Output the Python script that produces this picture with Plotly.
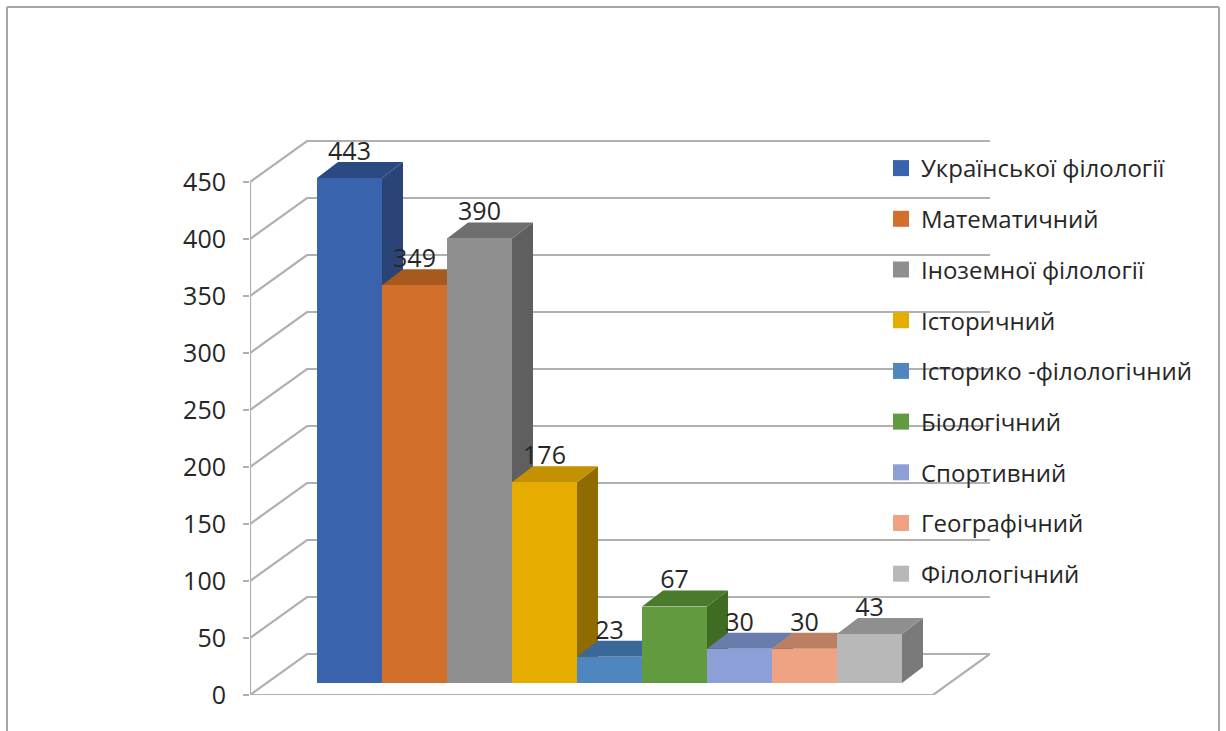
import plotly.graph_objects as go

categories = ["Української філології", "Математичний", "Іноземної філології", "Історичний",
              "Історико -філологічний", "Біологічний", "Спортивний", "Географічний", "Філологічний"]
values = [443, 349, 390, 176, 23, 67, 30, 30, 43]
front_colors = ["#3a63ad", "#d26f2a", "#8f8f8f", "#e6ac00", "#4f86c0", "#619a3f", "#8c9fd6", "#f0a382", "#b8b8b8"]
top_colors = ["#2c4a82", "#a85a1e", "#6e6e6e", "#c49200", "#3a6898", "#4a7a2c", "#6a7cab", "#bd7f63", "#8f8f8f"]
side_colors = ["#2a4478", "#9a5018", "#5f5f5f", "#8f6b00", "#30587f", "#3e6d22", "#5b6c99", "#a86f55", "#7a7a7a"]
y_ticks = [0, 50, 100, 150, 200, 250, 300, 350, 400, 450]

FONT = "Open Sans"
TEXT = "#262626"
GRID = "#b0b0b0"
PX_X, PX_Y = 65.0, 1.14          # pixels per data unit
LEFT_PX, RIGHT_PX, TOP_PX, BOTTOM_PX = 250, 990, 130, 695
X0 = -0.5 - (317 - LEFT_PX) / PX_X
X1 = X0 + (RIGHT_PX - LEFT_PX) / PX_X
Y1 = (BOTTOM_PX - TOP_PX) / PX_Y
WALL_DX, WALL_DY = 57 / PX_X, 41 / PX_Y
BAR_DX, BAR_DY = 21 / PX_X, 16 / PX_Y
BASE = 12 / PX_Y
LABEL_DROP = 4 / PX_Y
FLOOR_R = X0 + (933 - LEFT_PX) / PX_X


def poly(xs, ys):
    return "M" + " L".join(f"{a},{b}" for a, b in zip(xs, ys)) + " Z"


shapes = []
# floor and walls
shapes.append(dict(type="path", xref="x", yref="y", layer="between",
                   path=poly([X0, X0 + WALL_DX, X1, FLOOR_R], [0, WALL_DY, WALL_DY, 0]),
                   line=dict(color=GRID, width=2.2)))
for t in y_ticks[1:]:
    shapes.append(dict(type="path", xref="x", yref="y", layer="between",
                       path=f"M{X0},{t} L{X0 + WALL_DX},{t + WALL_DY} L{X1},{t + WALL_DY}",
                       line=dict(color=GRID, width=2.2)))
shapes.append(dict(type="line", xref="x", yref="y", layer="between", x0=X0, x1=X0, y0=0, y1=y_ticks[-1],
                   line=dict(color=GRID, width=2.2)))
# depth faces of the bars, left to right
for i, v in enumerate(values):
    l, r, top = i - 0.5, i + 0.5, BASE + v
    shapes.append(dict(type="path", xref="x", yref="y", layer="between",
                       path=poly([r, r + BAR_DX, r + BAR_DX, r], [BASE, BASE + BAR_DY, top + BAR_DY, top]),
                       fillcolor=side_colors[i], line=dict(width=0)))
    shapes.append(dict(type="path", xref="x", yref="y", layer="between",
                       path=poly([l, l + BAR_DX, r + BAR_DX, r], [top, top + BAR_DY, top + BAR_DY, top]),
                       fillcolor=top_colors[i], line=dict(width=0)))
# picture frame
frame = dict(type="line", xref="paper", yref="paper", line=dict(color="#a6a6a6", width=2))
W, H = 1226, 731
plot_w, plot_h = RIGHT_PX - LEFT_PX, BOTTOM_PX - TOP_PX
fx = lambda p: (p - LEFT_PX) / plot_w
fy = lambda p: (BOTTOM_PX - p) / plot_h
shapes.append({**frame, "x0": fx(7), "x1": fx(7), "y0": fy(7), "y1": fy(731)})
shapes.append({**frame, "x0": fx(7), "x1": fx(1219), "y0": fy(7), "y1": fy(7)})
shapes.append({**frame, "x0": fx(1219), "x1": fx(1219), "y0": fy(7), "y1": fy(731)})

fig = go.Figure()
for i, (c, v) in enumerate(zip(categories, values)):
    fig.add_trace(go.Bar(x=[i], y=[v], base=BASE, width=1, name=c, legendgroup=c, showlegend=False,
                         marker=dict(color=front_colors[i], line=dict(width=0)), hoverinfo="name+y"))
for i, c in enumerate(categories):
    fig.add_trace(go.Scatter(x=[None], y=[None], mode="markers", name=c, legendgroup=c,
                             marker=dict(symbol="square", size=16, color=front_colors[i])))
fig.add_trace(go.Scatter(x=list(range(len(values))), y=[BASE + v + BAR_DY - LABEL_DROP for v in values],
                         mode="text", text=[str(v) for v in values], textposition="top center",
                         textfont=dict(family=FONT, size=25, color=TEXT),
                         showlegend=False, cliponaxis=False, hoverinfo="skip"))

fig.update_layout(
    width=W, height=H, autosize=False,
    margin=dict(l=LEFT_PX, r=W - RIGHT_PX, t=TOP_PX, b=H - BOTTOM_PX, pad=0),
    paper_bgcolor="white", plot_bgcolor="rgba(0,0,0,0)",
    barmode="overlay", bargap=0, shapes=shapes,
    font=dict(family=FONT, color=TEXT, size=24),
    xaxis=dict(range=[X0, X1], visible=False, fixedrange=True),
    yaxis=dict(range=[0, Y1], tickvals=y_ticks, showgrid=False, zeroline=False, showline=False,
               ticks="outside", ticklen=6, tickwidth=2, tickcolor=GRID, ticklabelstandoff=12,
               tickfont=dict(family=FONT, size=25, color=TEXT), fixedrange=True),
    legend=dict(x=fx(881), xanchor="left", y=fy(146), yanchor="top", bgcolor="rgba(0,0,0,0)",
                tracegroupgap=16.5, font=dict(family=FONT, size=24, color=TEXT)),
)

fig.write_html("out.html", config={"displayModeBar": False},
               post_script="document.body.style.margin='0';document.body.style.overflow='hidden';")
